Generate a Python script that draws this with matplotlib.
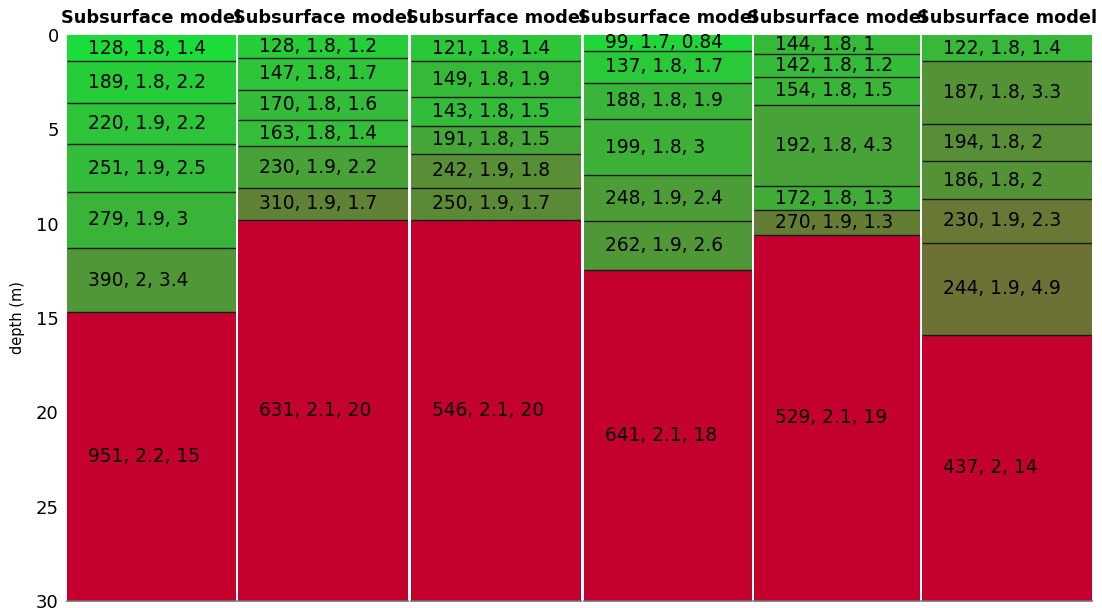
import numpy as np
import matplotlib
matplotlib.use('Agg')
import matplotlib.pyplot as plt
from matplotlib.colors import LinearSegmentedColormap


# each model: shear velocity (m/s), density, layer thickness (m); last entry is the half-space
vs = [[128, 189, 220, 251, 279, 390, 951],
      [128, 147, 170, 163, 230, 310, 631],
      [121, 149, 143, 191, 242, 250, 546],
      [99, 137, 188, 199, 248, 262, 641],
      [144, 142, 154, 192, 172, 270, 529],
      [122, 187, 194, 186, 230, 244, 437]]
rho = [[1.8, 1.8, 1.9, 1.9, 1.9, 2, 2.2],
       [1.8, 1.8, 1.8, 1.8, 1.9, 1.9, 2.1],
       [1.8, 1.8, 1.8, 1.8, 1.9, 1.9, 2.1],
       [1.7, 1.8, 1.8, 1.8, 1.9, 1.9, 2.1],
       [1.8, 1.8, 1.8, 1.8, 1.8, 1.9, 2.1],
       [1.8, 1.8, 1.8, 1.8, 1.9, 1.9, 2]]
thk = [[1.4, 2.2, 2.2, 2.5, 3, 3.4, 15],
       [1.2, 1.7, 1.6, 1.4, 2.2, 1.7, 20],
       [1.4, 1.9, 1.5, 1.5, 1.8, 1.7, 20],
       [0.84, 1.7, 1.9, 3, 2.4, 2.6, 18],
       [1, 1.2, 1.5, 4.3, 1.3, 1.3, 19],
       [1.4, 3.3, 2, 2, 2.3, 4.9, 14]]
max_depth = 30

cmap = LinearSegmentedColormap.from_list('vs', ['#00ff3c', '#c4002f'])

W, H = 1102, 608
fig = plt.figure(figsize=(W / 100, H / 100), dpi=100)

lefts = [67, 238, 411, 584, 754, 922]
rights = [236, 408, 581, 752, 920, 1092]
top_px, bot_px = 35, 601

for i in range(len(vs)):
    ax = fig.add_axes([lefts[i] / W, (H - bot_px) / H,
                       (rights[i] - lefts[i]) / W, (bot_px - top_px) / H])
    v = np.array(vs[i], dtype=float)
    h = np.array(thk[i], dtype=float)
    tops = np.concatenate([[0], np.cumsum(h[:-1])])
    heights = h.copy()
    heights[-1] = max_depth - tops[-1]
    colors = cmap(v / v[-1])
    ax.bar(0.5, heights, width=1, bottom=tops, color=colors, linewidth=0)
    ax.hlines(tops[1:], 0, 1, color='#1a1a1a', linewidth=1)
    for j in range(len(v)):
        ax.text(0.125, tops[j] + heights[j] / 2,
                '{:g}, {:g}, {:g}'.format(vs[i][j], rho[i][j], thk[i][j]),
                ha='left', va='center', fontsize=13.4, color='black')
    ax.set_xlim(0, 1)
    ax.set_ylim(max_depth, 0)
    ax.set_xticks([])
    for s in ['top', 'left', 'right']:
        ax.spines[s].set_visible(False)
    ax.spines['bottom'].set_color('#6e6e6e')
    ax.spines['bottom'].set_linewidth(1.2)
    ax.set_title('Subsurface model', fontweight='bold', fontsize=12.8, pad=8.6)
    if i == 0:
        ax.set_yticks(np.arange(0, 31, 5))
        ax.tick_params(axis='y', length=0, pad=6, labelsize=13)
        ax.set_ylabel('depth (m)', fontsize=10.5)
        ax.yaxis.set_label_coords(-0.25, 0.5)
    else:
        ax.set_yticks([])

fig.savefig('out.png', dpi=100)
